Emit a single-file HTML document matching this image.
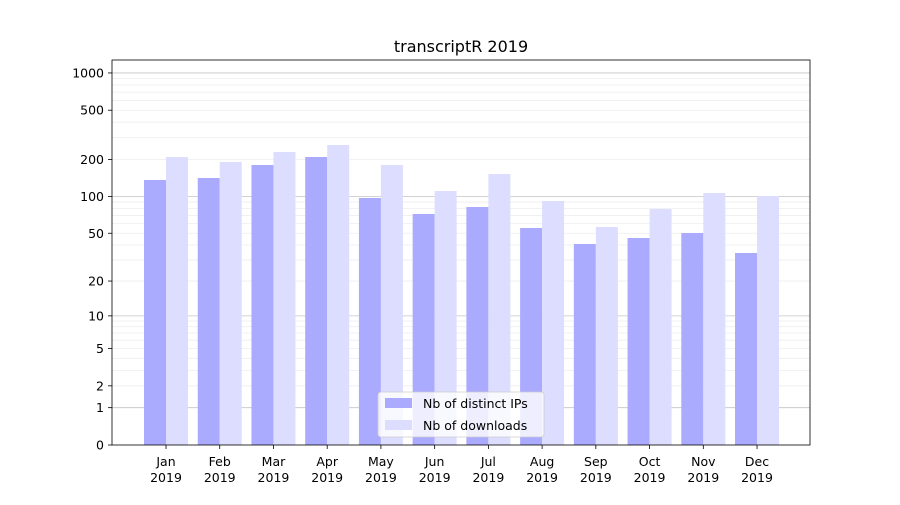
<!DOCTYPE html>
<html><head><meta charset="utf-8"><style>
body{margin:0;background:#fff;}
svg text{font-family:"DejaVu Sans","Liberation Sans",sans-serif;}
</style></head><body>
<svg id="s" width="900" height="500" xmlns="http://www.w3.org/2000/svg"></svg>
<script>
var s=document.getElementById('s'),h='';
function Y(v){return 445-124*Math.log10(1+v);}
h+='<rect x="0" y="0" width="900" height="500" fill="#fff"/>';
for(var n=0;n<3;n++)for(var k=2;k<10;k++){var y=Y(k*Math.pow(10,n));h+='<line x1="112" x2="810" y1="'+y+'" y2="'+y+'" stroke="#eeeeee" stroke-width="0.8"/>';}
[1,10,100,1000].forEach(function(v){var y=Y(v);h+='<line x1="112" x2="810" y1="'+y+'" y2="'+y+'" stroke="#c4c4c4" stroke-width="0.8"/>';});
var dk=[180,178,165,157,198,214,207,228,244,238,233,253];
var lt=[157,162,152,145,165,191,174,201,227,209,193,196];
var m=['Jan','Feb','Mar','Apr','May','Jun','Jul','Aug','Sep','Oct','Nov','Dec'];
for(var i=0;i<12;i++){var c=166+i*53.73;
h+='<rect x="'+(c-22)+'" y="'+dk[i]+'" width="22" height="'+(445-dk[i])+'" fill="#aaaaff"/>';
h+='<rect x="'+c+'" y="'+lt[i]+'" width="22" height="'+(445-lt[i])+'" fill="#ddddff"/>';
h+='<line x1="'+c+'" x2="'+c+'" y1="445" y2="449" stroke="#000" stroke-width="0.8"/>';
h+='<text x="'+c+'" y="466" font-size="12.5" text-anchor="middle">'+m[i]+'</text><text x="'+c+'" y="482" font-size="12.5" text-anchor="middle">2019</text>';}
[[0,'0'],[1,'1'],[2,'2'],[5,'5'],[10,'10'],[20,'20'],[50,'50'],[100,'100'],[200,'200'],[500,'500'],[1000,'1000']].forEach(function(t){var y=Y(t[0]);
h+='<line x1="108" x2="112" y1="'+y+'" y2="'+y+'" stroke="#000" stroke-width="0.8"/><text x="104" y="'+(y+4.5)+'" font-size="12.5" text-anchor="end">'+t[1]+'</text>';});
h+='<rect x="112" y="60" width="698" height="385" fill="none" stroke="#000" stroke-width="0.8"/>';
h+='<text x="461" y="52" font-size="16" text-anchor="middle">transcriptR 2019</text>';
h+='<rect x="378" y="392" width="166" height="45" rx="3" fill="#fff" fill-opacity="0.8" stroke="#ccc" stroke-width="0.8"/>';
h+='<rect x="385" y="398" width="27" height="10" fill="#aaaaff"/><text x="423" y="408" font-size="12.5">Nb of distinct IPs</text>';
h+='<rect x="385" y="420" width="27" height="10" fill="#ddddff"/><text x="423" y="430" font-size="12.5">Nb of downloads</text>';
s.innerHTML=h;
</script>
</body></html>
